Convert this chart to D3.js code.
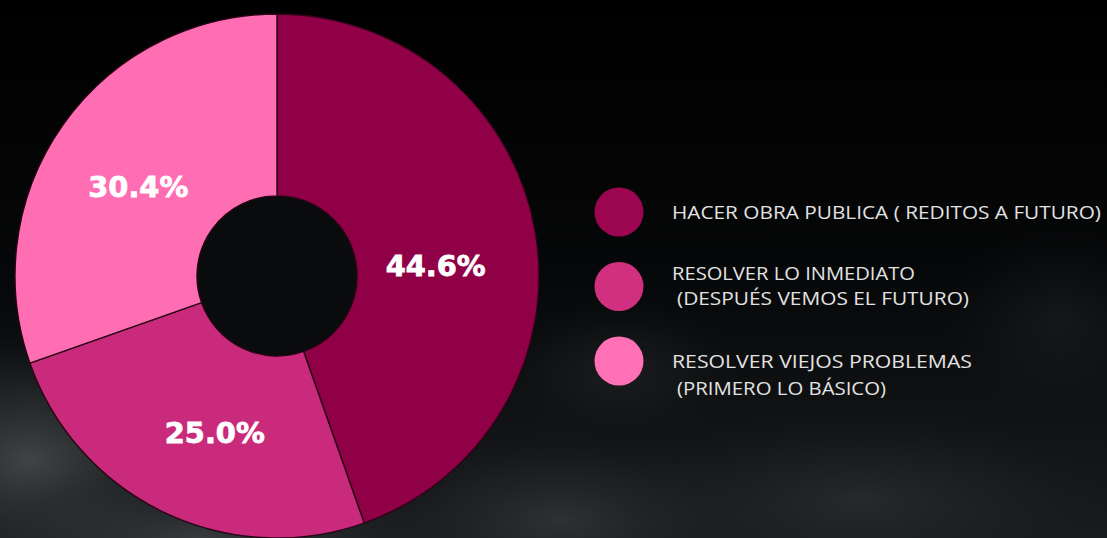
<!DOCTYPE html>
<html>
<head>
<meta charset="utf-8">
<script src="https://cdn.jsdelivr.net/npm/d3@7"></script>
<style>
  html, body { margin: 0; padding: 0; background: #000; }
  svg { display: block; }
</style>
</head>
<body>
<svg id="chart" width="1107" height="538"></svg>
<script>
// ---- data ----
const categories = [
  "HACER OBRA PUBLICA ( REDITOS A FUTURO)",
  "RESOLVER LO INMEDIATO (DESPUÉS VEMOS EL FUTURO)",
  "RESOLVER VIEJOS PROBLEMAS (PRIMERO LO BÁSICO)"
];
const values = [44.6, 25.0, 30.4];
const valueLabels = ["44.6%", "25.0%", "30.4%"];
const legendLines = [
  ["HACER OBRA PUBLICA ( REDITOS A FUTURO)"],
  ["RESOLVER LO INMEDIATO", " (DESPUÉS VEMOS EL FUTURO)"],
  ["RESOLVER VIEJOS PROBLEMAS", " (PRIMERO LO BÁSICO)"]
];

// ---- styles / layout ----
const sliceColors = ["#8f0047", "#c92a7c", "#ff6db3"];
const legendColors = ["#9c0550", "#d0307f", "#ff70b6"];
const W = 1107, H = 538;
const cx = 277, cy = 276, R = 262, r0 = 80;
const labelRadius = 165;
const labelNudge = [[-4, 18], [9, 8], [-4, 6]];
const legendLineWidths = [[429], [243, 292], [300, 209]];
const legendBaselines = [[7], [-7, 18], [7, 34]];

const svg = d3.select("#chart");
const defs = svg.append("defs");

// background
const bg = defs.append("linearGradient").attr("id", "bg").attr("x1", 0).attr("y1", 0).attr("x2", 0).attr("y2", 1);
bg.append("stop").attr("offset", "0%").attr("stop-color", "#000000");
bg.append("stop").attr("offset", "50%").attr("stop-color", "#060708");
bg.append("stop").attr("offset", "100%").attr("stop-color", "#191b1d");
svg.append("rect").attr("width", W).attr("height", H).attr("fill", "url(#bg)");

const rg = defs.append("radialGradient").attr("id", "smoke");
rg.append("stop").attr("offset", "0%").attr("stop-color", "#45494c").attr("stop-opacity", 1);
rg.append("stop").attr("offset", "55%").attr("stop-color", "#2e3234").attr("stop-opacity", 0.6);
rg.append("stop").attr("offset", "100%").attr("stop-color", "#1a1c1e").attr("stop-opacity", 0);
const smoke = [
  [30, 460, 190, 130, 0.9],
  [200, 540, 260, 80, 0.7],
  [560, 520, 200, 90, 0.5],
  [860, 500, 260, 90, 0.35],
  [620, 370, 120, 70, 0.25],
  [1060, 320, 120, 100, 0.2]
];
svg.append("g")
  .selectAll("ellipse").data(smoke).join("ellipse")
  .attr("cx", d => d[0]).attr("cy", d => d[1]).attr("rx", d => d[2]).attr("ry", d => d[3])
  .attr("fill", "url(#smoke)").attr("opacity", d => d[4]);

// donut
const pie = d3.pie().sort(null).value(d => d);
const arcs = pie(values);
const arc = d3.arc().innerRadius(r0).outerRadius(R);
const labelArc = d3.arc().innerRadius(labelRadius).outerRadius(labelRadius);

const g = svg.append("g").attr("transform", `translate(${cx},${cy})`);
g.append("circle").attr("r", r0).attr("fill", "#0a0b0c");
g.selectAll("path").data(arcs).join("path")
  .attr("d", arc)
  .attr("fill", (d, i) => sliceColors[i])
  .attr("stroke", "#2a0516")
  .attr("stroke-width", 1.4);

g.selectAll("text").data(arcs).join("text")
  .attr("transform", (d, i) => {
    const c = labelArc.centroid(d);
    return `translate(${c[0] + labelNudge[i][0]},${c[1] + labelNudge[i][1]})`;
  })
  .attr("text-anchor", "middle")
  .attr("dy", "0.36em")
  .attr("fill", "#ffffff")
  .attr("stroke", "#ffffff")
  .attr("stroke-width", 0.8)
  .attr("font-family", "'DejaVu Sans', sans-serif")
  .attr("font-weight", "bold")
  .attr("font-size", 28)
  .attr("textLength", 100)
  .attr("lengthAdjust", "spacingAndGlyphs")
  .text((d, i) => valueLabels[i]);

// legend
const legendY = d3.scalePoint().domain(d3.range(categories.length)).range([212, 361]);
const lg = svg.append("g");
const items = lg.selectAll("g").data(categories).join("g")
  .attr("transform", (d, i) => `translate(0,${legendY(i)})`);
items.append("circle").attr("cx", 619).attr("cy", 0).attr("r", 24.5)
  .attr("fill", (d, i) => legendColors[i]);
items.each(function(d, i) {
  const lines = legendLines[i];
  const sel = d3.select(this);
  lines.forEach((ln, j) => {
    const lead = ln.startsWith(" ");
    sel.append("text")
      .attr("x", lead ? 677 : 672)
      .attr("y", legendBaselines[i][j])
      .attr("fill", "#e2e2e2")
      .attr("font-family", "'Open Sans', sans-serif")
      .attr("font-weight", 500)
      .attr("font-size", 18)
      .attr("textLength", legendLineWidths[i][j])
      .attr("lengthAdjust", "spacingAndGlyphs")
      .text(ln.trim());
  });
});
</script>
</body>
</html>
